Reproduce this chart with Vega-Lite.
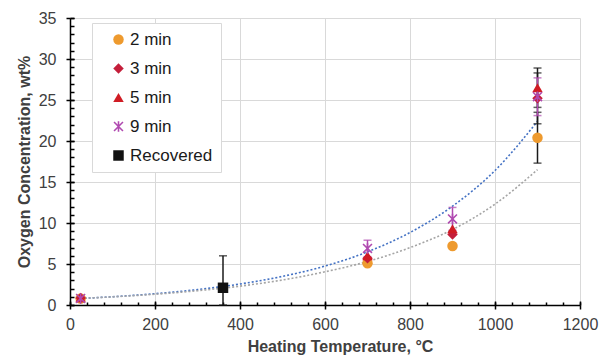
{
  "$schema": "https://vega.github.io/schema/vega-lite/v6.json",
  "width": 510,
  "height": 287,
  "autosize": {"type": "none"},
  "padding": {"left": 70, "top": 18, "right": 26, "bottom": 58},
  "background": "white",
  "config": {"view": {"stroke": null}, "font": "Liberation Sans"},
  "datasets": {
    "points": [
      {"series": "2 min", "temp": 25, "val": 0.8},
      {"series": "2 min", "temp": 700, "val": 5.1},
      {"series": "2 min", "temp": 900, "val": 7.2},
      {"series": "2 min", "temp": 1100, "val": 20.4, "lo": 17.3, "hi": 23.5},
      {"series": "3 min", "temp": 25, "val": 0.85},
      {"series": "3 min", "temp": 700, "val": 5.7},
      {"series": "3 min", "temp": 900, "val": 8.6},
      {"series": "3 min", "temp": 1100, "val": 25.2, "lo": 22.1, "hi": 28.3},
      {"series": "5 min", "temp": 25, "val": 0.9},
      {"series": "5 min", "temp": 700, "val": 6.0},
      {"series": "5 min", "temp": 900, "val": 9.3},
      {"series": "5 min", "temp": 1100, "val": 26.5, "lo": 24.1, "hi": 28.9},
      {"series": "9 min", "temp": 25, "val": 0.8},
      {"series": "9 min", "temp": 700, "val": 6.9, "lo": 5.9, "hi": 7.9},
      {"series": "9 min", "temp": 900, "val": 10.5, "lo": 9.1, "hi": 11.9},
      {"series": "9 min", "temp": 1100, "val": 25.4, "lo": 23.1, "hi": 27.7},
      {"series": "Recovered", "temp": 360, "val": 2.1, "lo": 0, "hi": 6.0}
    ],
    "trend": [
      {"fit": "upper", "temp": 25, "val": 0.8},
      {"fit": "upper", "temp": 100, "val": 1.01},
      {"fit": "upper", "temp": 200, "val": 1.38},
      {"fit": "upper", "temp": 300, "val": 1.88},
      {"fit": "upper", "temp": 400, "val": 2.56},
      {"fit": "upper", "temp": 500, "val": 3.49},
      {"fit": "upper", "temp": 600, "val": 4.75},
      {"fit": "upper", "temp": 700, "val": 6.48},
      {"fit": "upper", "temp": 800, "val": 8.84},
      {"fit": "upper", "temp": 900, "val": 12.05},
      {"fit": "upper", "temp": 1000, "val": 16.4},
      {"fit": "upper", "temp": 1100, "val": 22.4},
      {"fit": "lower", "temp": 25, "val": 0.8},
      {"fit": "lower", "temp": 100, "val": 0.99},
      {"fit": "lower", "temp": 200, "val": 1.31},
      {"fit": "lower", "temp": 300, "val": 1.74},
      {"fit": "lower", "temp": 400, "val": 2.3},
      {"fit": "lower", "temp": 500, "val": 3.05},
      {"fit": "lower", "temp": 600, "val": 4.05},
      {"fit": "lower", "temp": 700, "val": 5.3},
      {"fit": "lower", "temp": 800, "val": 7.0},
      {"fit": "lower", "temp": 900, "val": 9.2},
      {"fit": "lower", "temp": 1000, "val": 12.3},
      {"fit": "lower", "temp": 1100, "val": 16.5}
    ]
  },
  "resolve": {"axis": {"x": "independent", "y": "independent"}},
  "layer": [
    {
      "data": {"name": "trend"},
      "mark": {"type": "line", "strokeDash": [2, 2], "strokeWidth": 1.6, "interpolate": "monotone"},
      "encoding": {
        "x": {"field": "temp", "type": "quantitative", "scale": {"domain": [0, 1200], "nice": false},
          "axis": {"orient": "bottom", "title": "Heating Temperature, °C", "values": [0, 200, 400, 600, 800, 1000, 1200], "format": "d",
            "grid": true, "gridColor": "#d9d9d9", "gridWidth": 1, "domainColor": "#000", "domainWidth": 1.5,
            "tickColor": "#000", "tickSize": 4, "tickWidth": 1.5, "labelFontSize": 16, "labelColor": "#404040",
            "labelPadding": 7, "labelFlush": false, "labelOverlap": false, "titleFontSize": 16, "titleFontWeight": "bold",
            "titleColor": "#404040", "titlePadding": 6, "titleX": 270}},
        "y": {"field": "val", "type": "quantitative", "scale": {"domain": [0, 35], "nice": false},
          "axis": {"orient": "left", "title": "Oxygen Concentration, wt%", "values": [0, 5, 10, 15, 20, 25, 30, 35],
            "grid": true, "gridColor": "#d9d9d9", "gridWidth": 1, "domainColor": "#000", "domainWidth": 1.5,
            "tickColor": "#000", "tickSize": 4, "tickWidth": 1.5, "labelFontSize": 16, "labelColor": "#404040",
            "labelPadding": 10, "labelFlush": false, "labelOverlap": false, "titleFontSize": 16, "titleFontWeight": "bold",
            "titleColor": "#404040", "titlePadding": 6}},
        "stroke": {"field": "fit", "type": "nominal", "scale": {"domain": ["upper", "lower"], "range": ["#4472C4", "#A5A5A5"]}, "legend": null}
      }
    },
    {
      "data": {"name": "points"},
      "transform": [{"filter": "datum.lo != null && datum.series != '9 min'"}],
      "mark": {"type": "rule", "color": "#1a1a1a", "strokeWidth": 1.5},
      "encoding": {
        "x": {"field": "temp", "type": "quantitative",
          "axis": {"orient": "bottom", "values": [0, 200, 400, 600, 800, 1000, 1200], "tickSize": -4, "tickWidth": 1.5, "tickColor": "#000",
            "labels": false, "domain": false, "grid": false, "title": null}},
        "y": {"field": "lo", "type": "quantitative",
          "axis": {"orient": "left", "values": [0, 5, 10, 15, 20, 25, 30, 35], "tickSize": -4, "tickWidth": 1.5, "tickColor": "#000",
            "labels": false, "domain": false, "grid": false, "title": null}},
        "y2": {"field": "hi"}
      }
    },
    {
      "data": {"name": "points"},
      "transform": [{"filter": "datum.lo != null && datum.series != '9 min'"}],
      "mark": {"type": "tick", "orient": "horizontal", "color": "#1a1a1a", "size": 8, "thickness": 1.5},
      "encoding": {
        "x": {"field": "temp", "type": "quantitative", "axis": null},
        "y": {"field": "hi", "type": "quantitative", "axis": null}
      }
    },
    {
      "data": {"name": "points"},
      "transform": [{"filter": "datum.lo != null && datum.series != '9 min'"}],
      "mark": {"type": "tick", "orient": "horizontal", "color": "#1a1a1a", "size": 8, "thickness": 1.5},
      "encoding": {
        "x": {"field": "temp", "type": "quantitative", "axis": null},
        "y": {"field": "lo", "type": "quantitative", "axis": null}
      }
    },
    {
      "data": {"name": "points"},
      "transform": [{"filter": "datum.lo != null && datum.series == '9 min'"}],
      "mark": {"type": "rule", "color": "#B04AB0", "strokeWidth": 1.5},
      "encoding": {
        "x": {"field": "temp", "type": "quantitative",
          "axis": {"orient": "bottom", "values": [0, 40, 80, 120, 160, 200, 240, 280, 320, 360, 400, 440, 480, 520, 560, 600, 640, 680, 720, 760, 800, 840, 880, 920, 960, 1000, 1040, 1080, 1120, 1160, 1200],
            "tickSize": -3, "tickWidth": 1.5, "tickColor": "#000", "labels": false, "domain": false, "grid": false, "title": null}},
        "y": {"field": "lo", "type": "quantitative",
          "axis": {"orient": "left", "values": [0, 1, 2, 3, 4, 5, 6, 7, 8, 9, 10, 11, 12, 13, 14, 15, 16, 17, 18, 19, 20, 21, 22, 23, 24, 25, 26, 27, 28, 29, 30, 31, 32, 33, 34, 35],
            "tickSize": -4, "tickWidth": 1.5, "tickColor": "#000", "labels": false, "domain": false, "grid": false, "title": null}},
        "y2": {"field": "hi"}
      }
    },
    {
      "data": {"name": "points"},
      "transform": [{"filter": "datum.lo != null && datum.series == '9 min'"}],
      "mark": {"type": "tick", "orient": "horizontal", "color": "#B04AB0", "size": 8, "thickness": 1.5},
      "encoding": {
        "x": {"field": "temp", "type": "quantitative", "axis": null},
        "y": {"field": "hi", "type": "quantitative", "axis": null}
      }
    },
    {
      "data": {"name": "points"},
      "transform": [{"filter": "datum.lo != null && datum.series == '9 min'"}],
      "mark": {"type": "tick", "orient": "horizontal", "color": "#B04AB0", "size": 8, "thickness": 1.5},
      "encoding": {
        "x": {"field": "temp", "type": "quantitative", "axis": null},
        "y": {"field": "lo", "type": "quantitative", "axis": null}
      }
    },
    {
      "data": {"name": "points"},
      "mark": {"type": "point", "filled": true, "opacity": 1, "size": 110, "strokeWidth": 0},
      "encoding": {
        "x": {"field": "temp", "type": "quantitative", "axis": null},
        "y": {"field": "val", "type": "quantitative", "axis": null},
        "color": {"field": "series", "type": "nominal",
          "scale": {"domain": ["2 min", "3 min", "5 min", "9 min", "Recovered"], "range": ["#EE9A2E", "#C41E3A", "#D01C24", "#B04AB0", "#111111"]},
          "legend": {"title": null, "orient": "none", "legendX": 22, "legendY": 5, "padding": 8, "symbolOffset": 10,
            "rowPadding": 11, "labelFontSize": 17, "labelColor": "#1a1a1a", "strokeColor": "#d9d9d9", "fillColor": "white",
            "symbolSize": 110, "symbolStrokeWidth": 0, "labelOffset": 3}},
        "shape": {"field": "series", "type": "nominal",
          "scale": {"domain": ["2 min", "3 min", "5 min", "9 min", "Recovered"],
            "range": ["circle", "diamond", "triangle-up", "M-0.15,-1L0.15,-1L0.15,1L-0.15,1Z M-0.744,-0.956L0.956,0.744L0.744,0.956L-0.956,-0.744Z M0.956,-0.744L-0.744,0.956L-0.956,0.744L0.744,-0.956Z", "square"]}}
      }
    }
  ]
}
